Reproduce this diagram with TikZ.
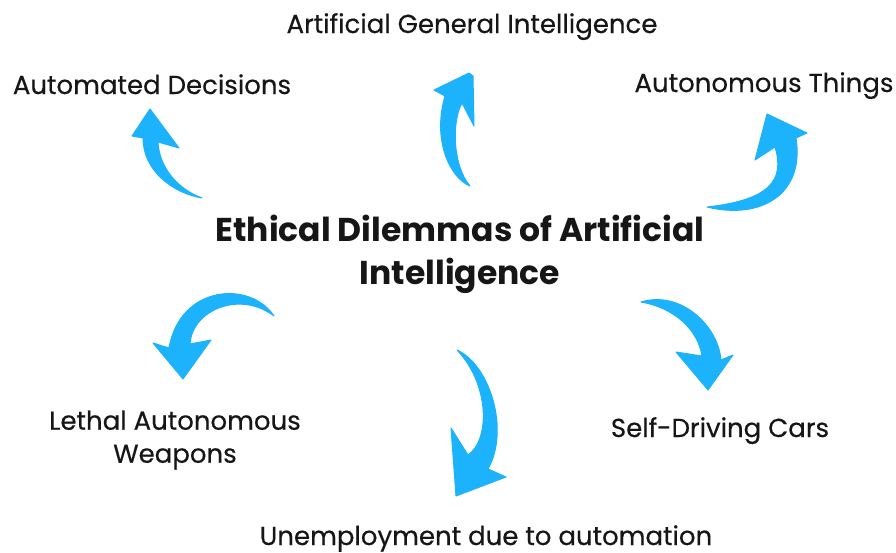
\documentclass[tikz,border=0pt]{standalone}
\usepackage{fontspec}
\setmainfont{Poppins}
\newfontfamily\topicfont{Poppins}[FakeBold=0.4]
\usepackage{xcolor}
\definecolor{arrowblue} {rgb}{0.109803922,0.698039216,0.988235294}
\definecolor{inktext} {rgb}{0.086274510,0.086274510,0.086274510}

\begin{document}
\begin{tikzpicture}[x=1pt,y=-1pt,
    topic/.style={font=\topicfont\fontsize{26}{33}\selectfont,text=inktext,inner sep=0pt,align=center},
    heading/.style={font=\fontsize{33}{43}\selectfont\bfseries,text=inktext,inner sep=0pt,align=center},
    brush/.style={fill=arrowblue,draw=arrowblue,line width=1pt,line join=round}]
      \useasboundingbox (0,0) rectangle (896,552);

      % texts
      \node[heading] (ethics) at (460,254) {Ethical Dilemmas of Artificial\\Intelligence};
      \node[topic,anchor=base] (agi) at (472,33) {Artificial General Intelligence};
      \node[topic,anchor=base] (decisions) at (152,94) {Automated Decisions};
      \node[topic,anchor=base] (things) at (764,92) {Autonomous Things};
      \node[topic] (weapons) at (175,440) {Lethal Autonomous\\Weapons};
      \node[topic,anchor=base] (cars) at (720,437) {Self-Driving Cars};
      \node[topic,anchor=base] (jobs) at (486,545) {Unemployment due to automation};

      % brush arrows, tail to tip
      \coordinate (decisions tail) at (202,198);
      \coordinate (decisions tip) at (150,109);
      \filldraw[brush] (decisions tail) .. controls (172,193) and (143,170) .. (143,138)
            -- (132,136) -- (decisions tip) -- (179,148) -- (158,142)
            .. controls (159,165) and (175,188) .. (decisions tail) -- cycle;

      \coordinate (agi tail) at (470,186);
      \coordinate (agi tip) at (469,73);
      \filldraw[brush] (agi tail) .. controls (450,178) and (432,140) .. (445,96)
            -- (434,90) -- (agi tip) -- (473,76) -- (474,126) -- (462,103)
            .. controls (452,120) and (452,165) .. (agi tail) -- cycle;

      \coordinate (things tail) at (707,207);
      \coordinate (things tip) at (767,114);
      \filldraw[brush] (things tail) .. controls (760,220) and (805,195) .. (796,138)
            -- (807,133) -- (things tip) -- (755,160) -- (775,147)
            .. controls (785,180) and (770,200) .. (things tail) -- cycle;

      \coordinate (weapons tail) at (274,316);
      \coordinate (weapons tip) at (183,379);
      \filldraw[brush] (weapons tail) .. controls (250,280) and (180,285) .. (169,348)
            -- (153,343) -- (weapons tip) -- (211,340) -- (190,344)
            .. controls (192,310) and (240,290) .. (weapons tail) -- cycle;

      \coordinate (jobs tail) at (457,350);
      \coordinate (jobs tip) at (456,496);
      \filldraw[brush] (jobs tail) .. controls (490,365) and (510,430) .. (488,469)
            -- (506,477) -- (jobs tip) -- (451,428) -- (468,455)
            .. controls (490,440) and (490,385) .. (jobs tail) -- cycle;

      \coordinate (cars tail) at (641,302);
      \coordinate (cars tip) at (708,390);
      \filldraw[brush] (cars tail) .. controls (680,290) and (718,325) .. (721,360)
            -- (733,355) -- (cars tip) -- (676,352) -- (702,356)
            .. controls (698,330) and (675,308) .. (cars tail) -- cycle;
\end{tikzpicture}
\end{document}
